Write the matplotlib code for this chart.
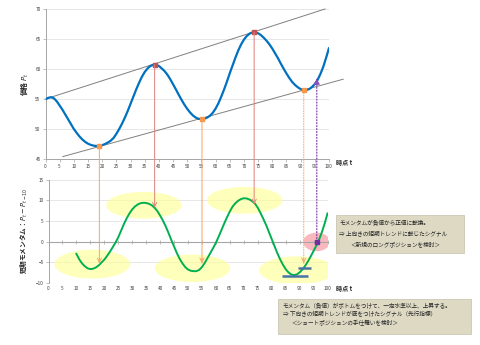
import matplotlib
matplotlib.use('Agg')
import matplotlib.pyplot as plt
from matplotlib.patches import Ellipse, ConnectionPatch, Rectangle
from matplotlib.transforms import blended_transform_factory as blend

plt.rcParams['font.family'] = ['Noto Sans CJK JP', 'DejaVu Sans']

# ---------------- data ----------------
t_price = list(range(0, 101))
price = [54.95, 55.2, 55.3, 55.1, 54.6, 53.9, 53.2, 52.4, 51.6, 50.8,
         50.0, 49.35, 48.75, 48.25, 47.85, 47.55, 47.35, 47.22, 47.17, 47.2,
         47.3, 47.5, 47.75, 48.05, 48.5, 49.2, 50.0, 50.9, 51.9, 53.0,
         54.2, 55.4, 56.6, 57.7, 58.7, 59.5, 60.1, 60.5, 60.7, 60.7,
         60.5, 60.1, 59.65, 59.05, 58.3, 57.45, 56.6, 55.7, 54.85, 54.05,
         53.35, 52.75, 52.25, 51.9, 51.7, 51.65, 51.7, 51.9, 52.2, 52.7,
         53.4, 54.3, 55.4, 56.6, 57.9, 59.3, 60.6, 61.9, 63.1, 64.1,
         64.9, 65.5, 65.9, 66.1, 66.1, 65.95, 65.65, 65.2, 64.7, 64.1,
         63.4, 62.6, 61.8, 60.9, 60.05, 59.25, 58.5, 57.85, 57.35, 56.95,
         56.65, 56.5, 56.5, 56.65, 57.0, 57.5, 58.2, 59.2, 60.4, 61.9,
         63.5]

t_mom = list(range(10, 101))
momentum = [-3.0, -4.3, -5.3, -6.0, -6.5, -6.7, -6.6, -6.3, -5.8, -5.1,
            -4.4, -3.5, -2.5, -1.4, -0.3, 1.0, 2.6, 4.2, 5.6, 6.8,
            7.8, 8.5, 9.0, 9.3, 9.4, 9.35, 9.15, 8.8, 8.2, 7.4,
            6.3, 5.1, 3.7, 2.1, 0.4, -1.2, -2.8, -4.2, -5.3, -6.2,
            -6.8, -7.1, -7.2, -7.2, -6.9, -6.2, -5.2, -4.0, -2.8, -1.6,
            -0.3, 1.2, 2.8, 4.4, 5.9, 7.3, 8.5, 9.3, 9.9, 10.3,
            10.5, 10.45, 10.2, 9.8, 9.2, 8.2, 6.9, 5.5, 4.0, 2.3,
            0.6, -1.1, -2.8, -4.3, -5.6, -6.7, -7.5, -8.0, -8.15, -8.0,
            -7.5, -6.8, -5.9, -4.8, -3.6, -2.3, -1.0, 0.5, 2.3, 4.4,
            6.8]

peak_t = [38.5, 73.6]
peak_p = [60.7, 66.1]
peak_mom_tip = [8.2, 9.0]
trough_t = [19.0, 55.2, 91.1]
trough_p = [47.2, 51.7, 56.5]
trough_mom_tip = [-5.3, -5.3, -5.3]
trough_style = ['-', '-', ':']

signal_t = 95.7
signal_price_tip = 58.3
signal_mom = 0.0

upper_t = [0, 98.6]
upper_p = [55.0, 70.0]
lower_t = [6.1, 105.0]
lower_p = [45.4, 58.3]

# highlight ellipses on momentum chart: (t, momentum, width, height)
ell_t = [15.7, 34.2, 70.3, 51.6, 89.0]
ell_m = [-5.5, 8.8, 10.0, -6.5, -7.0]
ell_w = [27.1, 27.1, 27.1, 27.1, 27.1]
ell_h = [7.0, 6.5, 6.5, 6.7, 6.8]
pink_t, pink_m, pink_w, pink_h = 96.1, -0.1, 9.6, 4.5

bar_levels = [-6.5, -8.4]
bar_start = [89.5, 83.6]
bar_end = [94.1, 92.9]

xticks = list(range(0, 101, 5))
top_yticks = [45, 50, 55, 60, 65, 70]
bot_yticks = [-10, -5, 0, 5, 10, 15]

box1_lines = ['モメンタムが負値から正値に転換。',
              '⇒ 上向きの短期トレンドに転じたシグナル',
              '＜新規のロングポジションを検討＞']
box2_lines = ['モメンタム（負値）がボトムをつけて、一定水準以上、上昇する。',
              '⇒ 下向きの短期トレンドが底をつけたシグナル（先行指標）',
              '＜ショートポジションの手仕舞いを検討＞']

# ---------------- figure ----------------
W, H = 480, 345
fig = plt.figure(figsize=(4.8, 3.45), dpi=100)
fig.patch.set_facecolor('white')

def fx(px):
    return px / W

def fy(py):
    return 1 - py / H

ax1 = fig.add_axes([fx(45.5), fy(159), fx(329) - fx(45.5), fy(9) - fy(159)])
ax2 = fig.add_axes([fx(48.5), fy(282.7), fx(327.5) - fx(48.5), fy(179.7) - fy(282.7)])

tick_col = '#404040'
spine_col = '#a6a6a6'
grid_col = '#e3e3e3'

# top chart
ax1.set_xlim(0, 100)
ax1.set_ylim(45, 70)
ax1.set_xticks(xticks)
ax1.set_yticks(top_yticks)
for y in top_yticks[1:]:
    ax1.axhline(y, color=grid_col, lw=0.6, zorder=0)
ax1.plot(upper_t, upper_p, color='#808080', lw=0.7, clip_on=False, zorder=2)
ax1.plot(lower_t, lower_p, color='#808080', lw=0.7, clip_on=False, zorder=2)
ax1.plot(t_price, price, color='#0070c0', lw=1.6, zorder=3, solid_capstyle='round',
         solid_joinstyle='round')
ax1.plot(peak_t, peak_p, 's', color='#c0504d', ms=2.4, zorder=4)
ax1.plot(trough_t, trough_p, 's', color='#f79646', ms=2.4, zorder=4)
for s in ['top', 'right']:
    ax1.spines[s].set_visible(False)
for s in ['left', 'bottom']:
    ax1.spines[s].set_color(spine_col)
    ax1.spines[s].set_linewidth(0.7)
ax1.tick_params(labelsize=3.4, colors=tick_col, length=2, width=0.5, pad=1.5)
ax1.tick_params(axis='both', color=spine_col)
ax1.set_ylabel('価格 $P_t$', fontsize=5, fontweight='bold', labelpad=4, color='#262626')

# bottom chart
ax2.set_xlim(0, 100)
ax2.set_ylim(-10, 15)
ax2.set_yticks(bot_yticks)
for y in bot_yticks:
    ax2.axhline(y, color=grid_col, lw=0.6, zorder=0)
for i in range(len(ell_t)):
    ax2.add_patch(Ellipse((ell_t[i], ell_m[i]), ell_w[i], ell_h[i],
                          facecolor='#ffff99', alpha=0.65, edgecolor='none', zorder=1))
ax2.add_patch(Ellipse((pink_t, pink_m), pink_w, pink_h, facecolor='#f7a1a8',
                      alpha=0.75, edgecolor='none', zorder=1))
ax2.spines['bottom'].set_position(('data', 0))
ax2.spines['bottom'].set_color(spine_col)
ax2.spines['bottom'].set_linewidth(0.8)
ax2.spines['left'].set_color(spine_col)
ax2.spines['left'].set_linewidth(0.7)
for s in ['top', 'right']:
    ax2.spines[s].set_visible(False)
ax2.set_xticks(xticks)
ax2.tick_params(axis='x', direction='inout', length=3, width=0.5, color=spine_col,
                labelbottom=False)
ax2.tick_params(axis='y', labelsize=3.4, colors=tick_col, length=2, width=0.5, pad=1.5)
ax2.tick_params(axis='y', color=spine_col)
sec = ax2.secondary_xaxis(0.0)
sec.set_xticks(xticks)
sec.tick_params(length=0, labelsize=3.4, colors=tick_col, pad=2.5)
sec.spines['bottom'].set_visible(False)
ax2.plot(t_mom, momentum, color='#00b050', lw=1.4, zorder=3, solid_joinstyle='round')
for lvl, a, b in zip(bar_levels, bar_start, bar_end):
    ax2.plot([a, b], [lvl, lvl], color='#4a72a8', lw=1.8, zorder=4, solid_capstyle='butt')
ax2.set_ylabel('短期モメンタム：$P_t-P_{t-10}$', fontsize=4.8, fontweight='bold',
               labelpad=5, color='#262626')

# connecting arrows
bx = blend(ax1.transData, ax2.transData)
for t, p, m in zip(peak_t, peak_p, peak_mom_tip):
    fig.add_artist(ConnectionPatch(xyA=(t, p), coordsA=ax1.transData, xyB=(t, m), coordsB=bx,
                                   arrowstyle='->,head_length=0.5,head_width=0.25',
                                   color='#e0807c', lw=0.7, mutation_scale=6, zorder=5))
for t, p, m, ls in zip(trough_t, trough_p, trough_mom_tip, trough_style):
    fig.add_artist(ConnectionPatch(xyA=(t, p), coordsA=ax1.transData, xyB=(t, m), coordsB=bx,
                                   arrowstyle='-', color='#f4a56a', lw=0.7, linestyle=ls, zorder=5))
    fig.add_artist(ConnectionPatch(xyA=(t, m + 1.2), coordsA=bx, xyB=(t, m), coordsB=bx,
                                   arrowstyle='->,head_length=0.5,head_width=0.25',
                                   color='#f4a56a', lw=0.7, mutation_scale=6, zorder=5))
# purple signal arrow
fig.add_artist(ConnectionPatch(xyA=(signal_t, signal_mom), coordsA=bx,
                               xyB=(signal_t, signal_price_tip), coordsB=ax1.transData,
                               arrowstyle='-', color='#7030a0', lw=0.8, linestyle=':', zorder=6))
fig.add_artist(ConnectionPatch(xyA=(signal_t, signal_price_tip - 1.0), coordsA=ax1.transData,
                               xyB=(signal_t, signal_price_tip), coordsB=ax1.transData,
                               arrowstyle='-|>,head_length=0.5,head_width=0.3',
                               color='#8a4fc0', lw=0.7, mutation_scale=6, zorder=6))
ax2.plot([signal_t], [signal_mom], 's', color='#7030a0', ms=3.2, zorder=6,
         transform=bx, clip_on=False)

# axis titles
fig.text(fx(336), fy(163), '時点 t', fontsize=4.4, fontweight='bold', va='center', color='#262626')
fig.text(fx(336), fy(288), '時点 t', fontsize=4.4, fontweight='bold', va='center', color='#262626')

# text boxes
fig.patches.append(Rectangle((fx(336), fy(253.3)), fx(464) - fx(336), fy(215) - fy(253.3),
                             transform=fig.transFigure, facecolor='#ddd9c3',
                             edgecolor='#c4c0aa', lw=0.5, zorder=0))
fig.patches.append(Rectangle((fx(278), fy(334)), fx(470.7) - fx(278), fy(299.3) - fy(334),
                             transform=fig.transFigure, facecolor='#ddd9c3',
                             edgecolor='#c4c0aa', lw=0.5, zorder=0))
for txt, x, y in zip(box1_lines, [339.3, 339.3, 350], [223.3, 233.3, 244.3]):
    fig.text(fx(x), fy(y), txt, fontsize=4.1, va='center', color='#262626')
for txt, x, y in zip(box2_lines, [282.7, 282.7, 291.7], [305.7, 314.5, 323.5]):
    fig.text(fx(x), fy(y), txt, fontsize=4.1, va='center', color='#262626')

fig.savefig('out.png', dpi=100)
